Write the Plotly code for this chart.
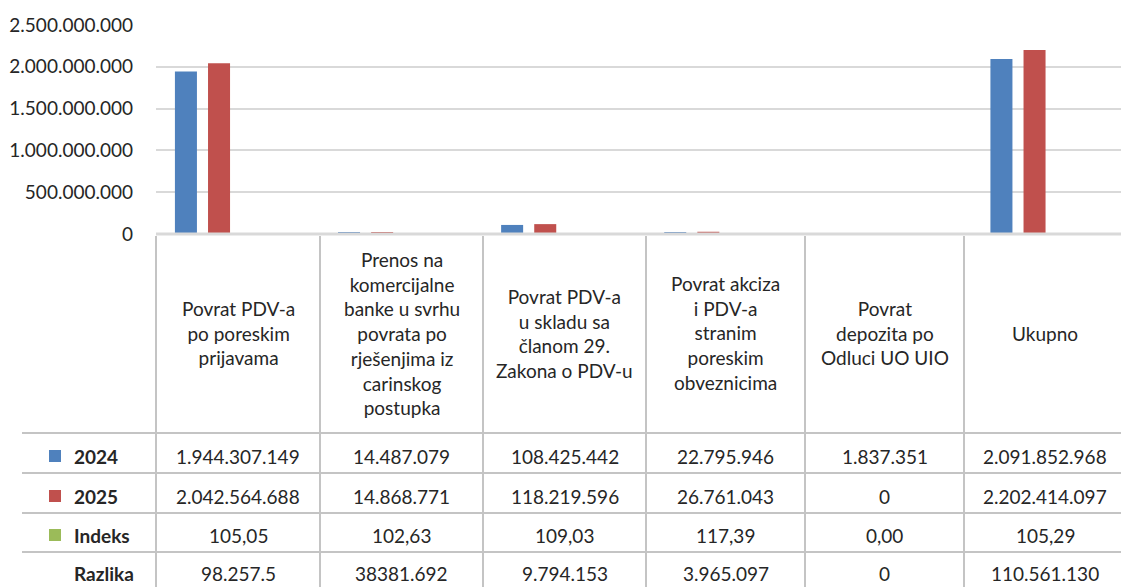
import plotly.graph_objects as go

W, H = 1121, 587

categories = [
    "Povrat PDV-a<br>po poreskim<br>prijavama",
    "Prenos na<br>komercijalne<br>banke u svrhu<br>povrata po<br>rješenjima iz<br>carinskog<br>postupka",
    "Povrat PDV-a<br>u skladu sa<br>članom 29.<br>Zakona o PDV-u",
    "Povrat akciza<br>i PDV-a<br>stranim<br>poreskim<br>obveznicima",
    "Povrat<br>depozita po<br>Odluci UO UIO",
    "Ukupno",
]
v2024 = [1944307149, 14487079, 108425442, 22795946, 1837351, 2091852968]
v2025 = [2042564688, 14868771, 118219596, 26761043, 0, 2202414097]
indeks = [105.05, 102.63, 109.03, 117.39, 0.00, 105.29]
razlika = ["98.257.5", "38381.692", "9.794.153", "3.965.097", "0", "110.561.130"]
y_ticks = [0, 500000000, 1000000000, 1500000000, 2000000000, 2500000000]

BLUE, RED, GREEN = "#4F81BD", "#C0504D", "#9BBB59"
GRID = "#d9d9d9"
TABLE = "#c4c4c4"
TXT = "#262626"
FONT = "Lato"
FS = 19

# granice kolona tabele (px) - tabela u Excelu nije potpuno ravnomjerna
col_edges = [156, 320, 483, 646, 805, 964, 1126]


def py(p):
    # pixel row -> paper y
    return 1 - p / H


def px(p):
    return p / W


def fmt_int(v):
    return f"{v:,}".replace(",", ".")


def fmt_idx(v):
    return f"{v:.2f}".replace(".", ",")


xs = list(range(len(categories)))
fig = go.Figure()

# stupci
for name, vals, col, off in [
    ("2024", v2024, BLUE, -0.384),
    ("2025", v2025, RED, -0.181),
    ("Indeks", indeks, GREEN, 0.021),
]:
    fig.add_trace(go.Bar(
        x=xs, y=vals, name=name, width=0.135, offset=off,
        marker=dict(color=col, line=dict(width=0)),
    ))

step = 163.1
x0_px = 156
fig.update_layout(
    width=W, height=H,
    margin=dict(l=0, r=0, t=0, b=0),
    paper_bgcolor="white", plot_bgcolor="white",
    showlegend=False,
    separators=",.",
    barmode="overlay",
    font=dict(family=FONT, size=FS, color=TXT),
    xaxis=dict(
        domain=[x0_px / W, 1],
        range=[-0.5, -0.5 + (W - x0_px) / step],
        showticklabels=False, showgrid=False, zeroline=False,
        showline=False, ticks="",
    ),
    yaxis=dict(
        domain=[py(234), py(25)],
        range=[0, 2500000000],
        tickvals=y_ticks, tickformat=",d",
        showgrid=True, gridcolor=GRID, gridwidth=2,
        zeroline=False, showline=False, ticks="",
        ticklabelstandoff=22, automargin=False,
        tickfont=dict(family=FONT, size=FS, color=TXT),
    ),
)

shapes = []
annotations = []

# osnovna linija
shapes.append(dict(type="line", xref="paper", yref="paper", x0=px(x0_px), x1=1,
                   y0=py(234), y1=py(234), line=dict(color=GRID, width=3)))

# vertikalne linije tabele
for e in col_edges[:-1]:
    shapes.append(dict(type="line", xref="paper", yref="paper", x0=px(e), x1=px(e),
                       y0=py(236), y1=0, line=dict(color=TABLE, width=2)))

# horizontalne linije tabele
row_lines = [433, 473, 513, 552]
for r in row_lines:
    shapes.append(dict(type="line", xref="paper", yref="paper", x0=px(22), x1=1,
                       y0=py(r), y1=py(r), line=dict(color=TABLE, width=2)))

centers = [(a + b) / 2 for a, b in zip(col_edges[:-1], col_edges[1:])]

# zaglavlje kategorija
for cx, c in zip(centers, categories):
    annotations.append(dict(x=px(cx), y=py(333), xref="paper", yref="paper", text=c,
                            showarrow=False, xanchor="center", yanchor="middle",
                            font=dict(family=FONT, size=FS, color=TXT)))

row_y = [456, 496, 535, 573]
row_names = ["2024", "2025", "Indeks", "Razlika"]
row_cols = [BLUE, RED, GREEN, None]
row_vals = [
    [fmt_int(v) for v in v2024],
    [fmt_int(v) for v in v2025],
    [fmt_idx(v) for v in indeks],
    razlika,
]

for name, col, yy, vals in zip(row_names, row_cols, row_y, row_vals):
    annotations.append(dict(x=px(72), y=py(yy), xref="paper", yref="paper",
                            text=f"<b>{name}</b>", showarrow=False,
                            xanchor="left", yanchor="middle",
                            font=dict(family=FONT, size=FS, color=TXT)))
    if col:
        shapes.append(dict(type="rect", xref="paper", yref="paper",
                           x0=px(49), x1=px(61), y0=py(yy + 6), y1=py(yy - 6),
                           fillcolor=col, line=dict(width=0)))
    for cx, t in zip(centers, vals):
        annotations.append(dict(x=px(cx), y=py(yy), xref="paper", yref="paper", text=t,
                                showarrow=False, xanchor="center", yanchor="middle",
                                font=dict(family=FONT, size=FS, color=TXT)))

fig.update_layout(shapes=shapes, annotations=annotations)
fig.write_html("out.html", config={"displayModeBar": False},
               post_script="document.body.style.margin='0';")
